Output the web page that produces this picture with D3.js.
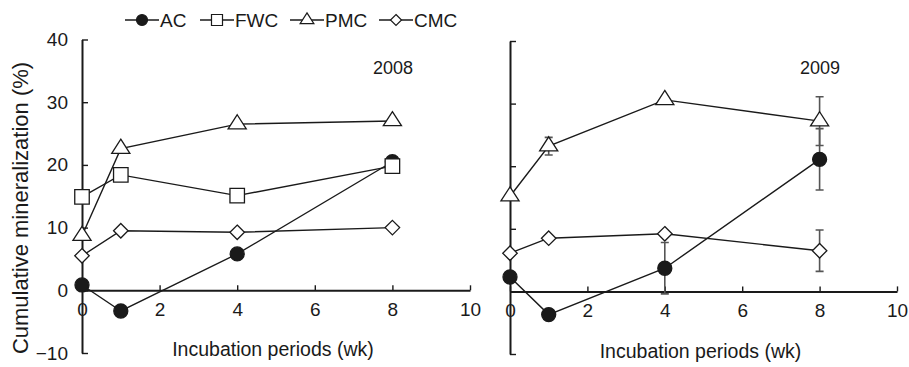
<!DOCTYPE html>
<html>
<head>
<meta charset="utf-8">
<script src="https://cdn.jsdelivr.net/npm/d3@7"></script>
<style>
body{margin:0;background:#fff;}
text{font-family:"Liberation Sans",Arial,sans-serif;fill:#1a1a1a;}
</style>
</head>
<body>
<div class="chart"></div>
<script>
// incubation weeks and tick labels
const weeks = [0, 1, 4, 8];
const xTicks = [0, 2, 4, 6, 8, 10];
const yTicks = [-10, 0, 10, 20, 30, 40];
const seriesNames = ["AC", "FWC", "PMC", "CMC"];

// 2008
const ac2008 = [0.85, -3.3, 5.8, 20.5];
const fwc2008 = [14.9, 18.4, 15.1, 19.8];
const pmc2008 = [8.7, 22.6, 26.5, 27.0];
const cmc2008 = [5.5, 9.5, 9.25, 10.0];

// 2009 (no FWC)
const ac2009 = [2.3, -3.7, 3.7, 21.1];
const pmc2009 = [15.2, 23.2, 30.6, 27.2];
const cmc2009 = [6.1, 8.5, 9.2, 6.5];
const acErr2009 = [0, 0, 4.1, 4.9];
const pmcErr2009 = [0, 1.4, 0, 3.9];
const cmcErr2009 = [0, 0, 0, 3.3];

const width = 909, height = 367;
const svg = d3.select('.chart').append('svg')
	.attr('width', width)
	.attr('height', height);

// marker shapes
function marker(type, s){
	if(type=="AC") return d3.symbol(d3.symbolCircle, Math.PI*s*s/4)();
	if(type=="FWC") return d3.symbol(d3.symbolSquare, s*s)();
	if(type=="PMC"){
		const w = s*1.25, h = s*0.97;
		return `M0,${-h*2/3}L${w/2},${h/3}L${-w/2},${h/3}Z`;
	}
	const r = s/2;
	return `M0,${-r}L${r},0L0,${r}L${-r},0Z`;
}

const panels = [
	{year:"2008", xr:[82,470], yr:[353,39.5], labels:true, yearX:393,
	 series:[["AC",ac2008,null],["FWC",fwc2008,null],["PMC",pmc2008,null],["CMC",cmc2008,null]]},
	{year:"2009", xr:[510,897], yr:[354,41], labels:false, yearX:820,
	 series:[["AC",ac2009,acErr2009],["PMC",pmc2009,pmcErr2009],["CMC",cmc2009,cmcErr2009]]}
];

panels.forEach(p=>{
	const x = d3.scaleLinear().domain([0,10]).range(p.xr);
	const y = d3.scaleLinear().domain([-10,40]).range(p.yr);
	const g = svg.append('g');

	const xAxis = g.append('g')
		.attr('transform', `translate(0,${y(0)})`)
		.call(d3.axisBottom(x).tickValues(xTicks).tickSizeInner(-5).tickSizeOuter(0).tickPadding(12));
	const yAxis = g.append('g')
		.attr('transform', `translate(${x(0)},0)`)
		.call(d3.axisLeft(y).tickValues(yTicks).tickSizeInner(-6).tickSizeOuter(0).tickPadding(14)
			.tickFormat(p.labels ? d3.format('d') : ''));
	[xAxis, yAxis].forEach(a=>{
		a.select('.domain').attr('stroke','#1a1a1a').attr('stroke-width',2);
		a.selectAll('.tick line').attr('stroke','#1a1a1a').attr('stroke-width',1.4);
		a.selectAll('.tick text').attr('font-size',19).attr('font-family','"Liberation Sans",Arial,sans-serif').attr('fill','#1a1a1a');
	});

	// error bars
	p.series.forEach(([name, vals, errs])=>{
		if(!errs) return;
		weeks.forEach((w,i)=>{
			if(!errs[i]) return;
			const cx = x(w), y1 = y(vals[i]+errs[i]), y2 = y(vals[i]-errs[i]);
			g.append('path')
				.attr('d', `M${cx},${y1}V${y2}M${cx-4},${y1}H${cx+4}M${cx-4},${y2}H${cx+4}`)
				.attr('stroke','#555').attr('stroke-width',1.6).attr('fill','none');
		});
	});

	const line = d3.line().x((d,i)=>x(weeks[i])).y(d=>y(d));
	p.series.forEach(([name, vals])=>{
		g.append('path')
			.datum(vals)
			.attr('d', line)
			.attr('fill','none')
			.attr('stroke','#1a1a1a')
			.attr('stroke-width',1.4);
		g.selectAll('.m'+name)
			.data(vals)
			.enter()
			.append('path')
			.attr('transform',(d,i)=>`translate(${x(weeks[i])},${y(d)})`)
			.attr('d', marker(name, name=="AC" ? 14 : 14.5))
			.attr('fill', name=="AC" ? '#1a1a1a' : '#fff')
			.attr('stroke','#1a1a1a')
			.attr('stroke-width',1.3);
	});

	g.append('text')
		.attr('x', p.yearX).attr('y', 74)
		.attr('text-anchor','middle')
		.attr('font-size',18)
		.text(p.year);

	g.append('text')
		.attr('x', (p.xr[0]+p.xr[1])/2 - 3).attr('y', p.labels ? 356 : 358)
		.attr('text-anchor','middle')
		.attr('font-size',19.5)
		.text("Incubation periods (wk)");
});

svg.append('text')
	.attr('transform','translate(28,208) rotate(-90)')
	.attr('text-anchor','middle')
	.attr('font-size',22)
	.text("Cumulative mineralization (%)");

// legend
const legendX = [125, 200, 290, 379];
const legend = svg.append('g').attr('class','legend');
seriesNames.forEach((name,i)=>{
	const x0 = legendX[i];
	const gi = legend.append('g').attr('transform',`translate(${x0},20)`);
	gi.append('line').attr('x1',0).attr('x2',34).attr('stroke','#1a1a1a').attr('stroke-width',1.6);
	gi.append('path').attr('transform','translate(17,0)')
		.attr('d', marker(name, 11))
		.attr('fill', name=="AC" ? '#1a1a1a' : '#fff')
		.attr('stroke','#1a1a1a').attr('stroke-width',1.2);
	gi.append('text').attr('x',35).attr('y',7).attr('font-size',19).text(name);
});
</script>
</body>
</html>
